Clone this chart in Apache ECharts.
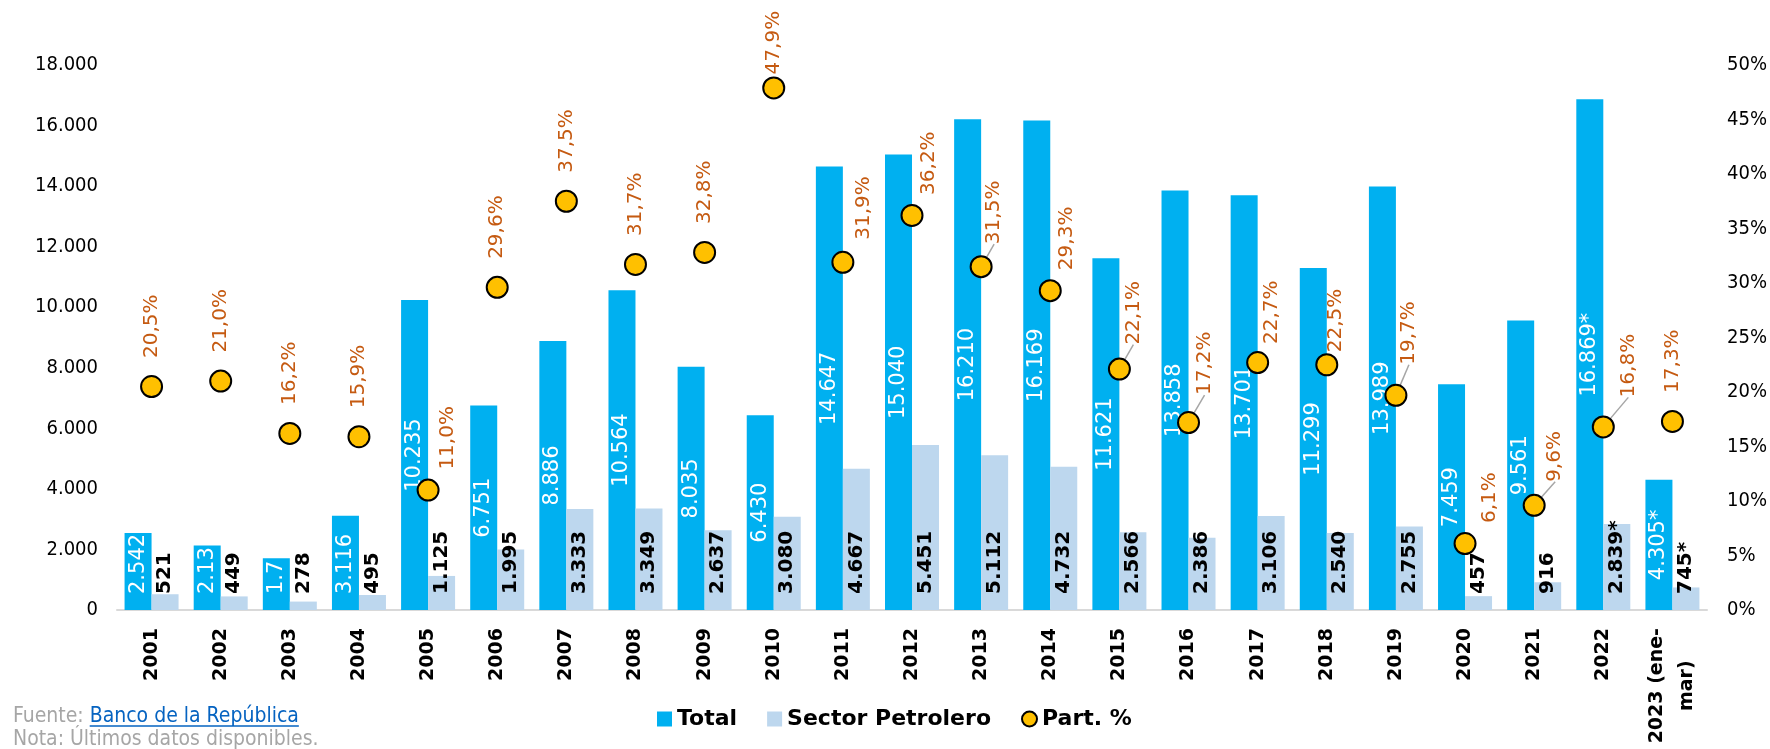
<!DOCTYPE html>
<html>
<head>
<meta charset="utf-8">
<script src="https://cdn.jsdelivr.net/npm/echarts@6/dist/echarts.min.js"></script>
<style>
  html, body { margin: 0; padding: 0; background: #fff; }
  #chart { width: 1770px; height: 749px; }
</style>
</head>
<body>
<div id="chart"></div>
<script>
// categorías (años)
const categories = ['2001', '2002', '2003', '2004', '2005', '2006', '2007', '2008', '2009', '2010', '2011', '2012',
  '2013', '2014', '2015', '2016', '2017', '2018', '2019', '2020', '2021', '2022', '2023 (ene-\nmar)'];

// Total (USD millones)
const totalValues = [2542, 2134, 1712, 3116, 10235, 6751, 8886, 10564, 8035, 6430, 14647, 15040,
  16210, 16169, 11621, 13858, 13701, 11299, 13989, 7459, 9561, 16869, 4305];
const totalLabels = ['2.542', '2.13', '1.7', '3.116', '10.235', '6.751', '8.886', '10.564', '8.035', '6.430', '14.647', '15.040',
  '16.210', '16.169', '11.621', '13.858', '13.701', '11.299', '13.989', '7.459', '9.561', '16.869*', '4.305*'];

// Sector Petrolero
const petroleroValues = [521, 449, 278, 495, 1125, 1995, 3333, 3349, 2637, 3080, 4667, 5451,
  5112, 4732, 2566, 2386, 3106, 2540, 2755, 457, 916, 2839, 745];
const petroleroLabels = ['521', '449', '278', '495', '1.125', '1.995', '3.333', '3.349', '2.637', '3.080', '4.667', '5.451',
  '5.112', '4.732', '2.566', '2.386', '3.106', '2.540', '2.755', '457', '916', '2.839*', '745*'];

// Part. %
const partValues = [20.5, 21.0, 16.2, 15.9, 11.0, 29.6, 37.5, 31.7, 32.8, 47.9, 31.9, 36.2,
  31.5, 29.3, 22.1, 17.2, 22.7, 22.5, 19.7, 6.1, 9.6, 16.8, 17.3];

// ejes
const leftMax = 18000, leftStep = 2000;
const rightMax = 50, rightStep = 5;

// desplazamiento en pantalla de etiquetas de % (derecha, abajo) y si llevan línea guía
const pctShift = {
  4: [20, 8], 9: [0, 15], 10: [21, 6], 11: [17, 8], 12: [13, 6, true], 13: [17, 8],
  14: [14, 4, true], 15: [16, 1, true], 16: [14, 10], 17: [9, 16], 18: [13, -2, true],
  19: [25, 8], 20: [21, 5, true], 21: [25, -1, true]
};

const AXIS_FONT = '"DejaVu Sans Condensed", "DejaVu Sans", sans-serif';
const LABEL_FONT = '"DejaVu Sans", sans-serif';
const lastIdx = categories.length - 1;

function miles(v) {
  return String(v).replace(/\B(?=(\d{3})+(?!\d))/g, '.');
}

const chart = echarts.init(document.getElementById('chart'));

// medidas de texto
const footFont = '21px ' + AXIS_FONT;
const catFont = 'bold 19px ' + LABEL_FONT;
const ctx = document.createElement('canvas').getContext('2d');
ctx.font = footFont;
const fuenteW = ctx.measureText('Fuente: ').width;
const bancoW = ctx.measureText('Banco de la República').width;
ctx.font = catFont;
const lastLen = Math.max(...categories[lastIdx].split('\n').map((s) => ctx.measureText(s).width));

const footer = [
  {
    type: 'text', x: 13, y: 717,
    style: { text: 'Fuente: ', font: footFont, fill: '#A6A6A6', verticalAlign: 'middle' }
  },
  {
    type: 'text', x: 13 + fuenteW, y: 717,
    style: { text: 'Banco de la República', font: footFont, fill: '#0563C1', verticalAlign: 'middle' }
  },
  {
    type: 'line',
    shape: { x1: 13 + fuenteW, y1: 726, x2: 13 + fuenteW + bancoW, y2: 726 },
    style: { stroke: '#0563C1', lineWidth: 1.5 }
  },
  {
    type: 'text', x: 13, y: 740,
    style: { text: 'Nota: Últimos datos disponibles.', font: footFont, fill: '#A6A6A6', verticalAlign: 'middle' }
  }
];

chart.setOption({
  animation: false,
  grid: { left: 117, right: 63, top: 65, bottom: 139 },
  legend: {
    left: 652,
    top: 703,
    itemWidth: 15,
    itemHeight: 15,
    itemGap: 30,
    textStyle: { fontFamily: LABEL_FONT, fontSize: 22, fontWeight: 'bold', color: '#000' },
    data: [
      { name: 'Total', icon: 'rect' },
      { name: 'Sector Petrolero', icon: 'rect' },
      { name: 'Part. %', icon: 'circle' }
    ]
  },
  xAxis: {
    type: 'category',
    data: categories,
    axisLine: { lineStyle: { color: '#D9D9D9', width: 2 } },
    axisTick: { show: false },
    axisLabel: {
      rotate: 90,
      margin: 18,
      interval: 0,
      color: '#000',
      fontFamily: LABEL_FONT,
      fontWeight: 'bold',
      fontSize: 19,
      // la última (dos líneas centradas) se dibuja aparte
      formatter: (v, i) => (i === lastIdx ? '' : v)
    }
  },
  yAxis: [
    {
      type: 'value',
      min: 0,
      max: leftMax,
      interval: leftStep,
      splitLine: { show: false },
      axisLine: { show: false },
      axisTick: { show: false },
      axisLabel: {
        margin: 19,
        color: '#000',
        fontFamily: AXIS_FONT,
        fontSize: 20,
        formatter: (v) => miles(v)
      }
    },
    {
      type: 'value',
      min: 0,
      max: rightMax,
      interval: rightStep,
      splitLine: { show: false },
      axisLine: { show: false },
      axisTick: { show: false },
      axisLabel: {
        margin: 20,
        color: '#000',
        fontFamily: AXIS_FONT,
        fontSize: 20,
        formatter: '{value}%'
      }
    }
  ],
  series: [
    {
      name: 'Total',
      type: 'bar',
      barWidth: 27,
      barGap: '0%',
      itemStyle: { color: '#00B0F0' },
      label: {
        show: true,
        position: 'inside',
        rotate: 90,
        color: '#fff',
        fontFamily: LABEL_FONT,
        fontSize: 21,
        formatter: (p) => totalLabels[p.dataIndex]
      },
      data: totalValues.map((v, i) => i < 4
        ? { value: v, label: { position: 'insideBottom', distance: 16, align: 'left', verticalAlign: 'middle' } }
        : v)
    },
    {
      name: 'Sector Petrolero',
      type: 'bar',
      barWidth: 27,
      barGap: '0%',
      itemStyle: { color: '#BDD7EE' },
      label: {
        show: true,
        position: 'insideBottom',
        distance: 16,
        rotate: 90,
        align: 'left',
        verticalAlign: 'middle',
        color: '#000',
        fontFamily: LABEL_FONT,
        fontWeight: 'bold',
        fontSize: 20,
        formatter: (p) => petroleroLabels[p.dataIndex]
      },
      data: petroleroValues
    },
    {
      name: 'Part. %',
      type: 'scatter',
      yAxisIndex: 1,
      z: 3,
      symbolSize: 21,
      itemStyle: { color: '#FFC000', borderColor: '#000', borderWidth: 2, opacity: 1 },
      label: {
        show: true,
        position: 'top',
        distance: 17,
        rotate: 90,
        align: 'left',
        verticalAlign: 'middle',
        color: '#C55A11',
        fontFamily: LABEL_FONT,
        fontSize: 20,
        formatter: (p) => p.value.toFixed(1).replace('.', ',') + '%'
      },
      labelLine: { show: false, lineStyle: { color: '#A6A6A6', width: 1.5 } },
      // dx/dy van en el marco girado de la etiqueta
      labelLayout: (p) => {
        const s = pctShift[p.dataIndex];
        return s ? { dx: -s[1], dy: s[0] } : {};
      },
      data: partValues.map((v, i) => (pctShift[i] && pctShift[i][2])
        ? { value: v, labelLine: { show: true, lineStyle: { color: '#A6A6A6', width: 1.5 } } }
        : v)
    }
  ],
  graphic: footer
});

// etiqueta "2023 (ene-mar)" en dos líneas centradas
const [lx, ly] = chart.convertToPixel({ xAxisIndex: 0, yAxisIndex: 0 }, [lastIdx, 0]);
chart.setOption({
  graphic: footer.concat([{
    type: 'text',
    x: lx,
    y: ly + 18 + lastLen / 2,
    rotation: Math.PI / 2,
    style: {
      text: categories[lastIdx],
      font: catFont,
      fill: '#000',
      align: 'center',
      verticalAlign: 'middle',
      lineHeight: 30
    }
  }])
});
</script>
</body>
</html>
